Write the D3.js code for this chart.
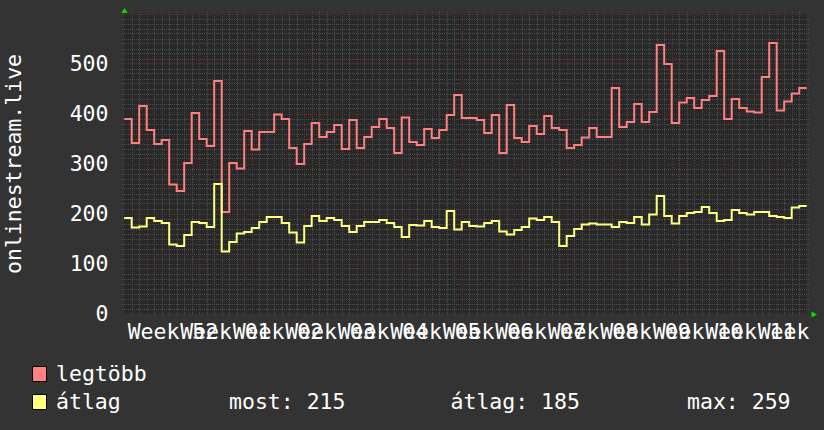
<!DOCTYPE html>
<html><head><meta charset="utf-8">
<script src="https://cdn.jsdelivr.net/npm/d3@7/dist/d3.min.js"></script>
<style>html,body{margin:0;padding:0;background:#333333;} svg{display:block;}</style>
</head><body>
<script>
// ---- data (daily values) ----
const maxValues = [389,341,415,367,339,347,258,245,301,401,
  349,335,465,203,301,290,365,328,363,363,
  398,389,331,299,339,381,353,363,377,329,
  387,331,353,373,389,371,321,392,343,337,
  369,351,367,397,437,391,391,387,361,397,
  321,417,351,343,375,359,395,371,367,331,
  337,352,371,353,353,451,373,383,419,383,
  403,537,499,381,422,431,411,427,435,525,
  389,429,411,404,402,473,541,406,424,440,451];
const avgValues = [191,172,174,191,185,181,138,135,157,183,
  181,173,259,124,143,160,163,171,183,193,
  193,181,162,142,175,195,185,191,187,175,
  163,175,183,183,187,181,173,153,177,176,
  185,173,171,205,168,183,175,174,181,185,
  164,158,167,173,190,187,193,183,135,155,
  169,178,180,178,178,173,183,181,193,178,
  198,235,195,180,195,201,203,213,201,185,
  187,207,201,198,203,203,195,193,191,212,215];
const weekNumbers = ["52","01","02","03","04","05","06","07","08","09","10","11","12"];
const firstWeekStartDay = 3;
const yTicks = [0,100,200,300,400,500];
const yAxisTitle = "onlinestream.live";
const legendNames = ["legtöbb","átlag"];
const legendStats = ["most: 215","átlag: 185","max: 259"];
const seriesColors = ["#ff8080","#ffff80"];

// ---- layout ----
const W = 824, H = 430;
const FONT = "'DejaVu Sans Mono', monospace";
const FS = "21.5px";
const nDays = maxValues.length;
const svg = d3.select("body").append("svg").attr("width", W).attr("height", H);
svg.append("rect").attr("width", W).attr("height", H).attr("fill", "#333333");

const x = d3.scaleLinear().domain([0, nDays]).range([124.2, 806.7]);
const y = d3.scaleLinear().domain([0, 600]).range([313.5, 13.5]);
const px = v => Math.round(v) + 0.5;

svg.append("rect")
  .attr("x", x(0)).attr("y", y(600))
  .attr("width", x(nDays) - x(0)).attr("height", y(0) - y(600))
  .attr("fill", "#282828");

const grid = svg.append("g").attr("shape-rendering", "crispEdges");
// minor horizontal
const minorH = d3.range(10, 600, 10).filter(v => v % 100 !== 0);
grid.selectAll(".mh").data(minorH).join("line")
  .attr("x1", x(0) - 2).attr("x2", x(nDays) + 2)
  .attr("y1", d => px(y(d))).attr("y2", d => px(y(d)))
  .attr("stroke", "#4e4e4e").attr("stroke-dasharray", "1,1");
// minor vertical (daily)
const minorV = d3.range(1, nDays).filter(d => (d - firstWeekStartDay) % 7 !== 0);
grid.selectAll(".mv").data(minorV).join("line")
  .attr("y1", y(600) - 2).attr("y2", y(0) + 2)
  .attr("x1", d => px(x(d))).attr("x2", d => px(x(d)))
  .attr("stroke", "#4e4e4e").attr("stroke-dasharray", "1,1");
// major horizontal
const majorH = [100,200,300,400,500,600];
grid.selectAll(".Mh").data(majorH).join("line")
  .attr("x1", x(0) - 2).attr("x2", x(nDays) + 2)
  .attr("y1", d => px(y(d))).attr("y2", d => px(y(d)))
  .attr("stroke", "#5c3030").attr("stroke-dasharray", "1,1");
// major vertical (week starts)
const majorV = d3.range(firstWeekStartDay, nDays, 7);
grid.selectAll(".Mv").data(majorV).join("line")
  .attr("y1", y(600) - 2).attr("y2", y(0) + 3)
  .attr("x1", d => px(x(d))).attr("x2", d => px(x(d)))
  .attr("stroke", "#5c3030").attr("stroke-dasharray", "1,1");

// y tick labels
svg.append("g").selectAll("text").data(yTicks).join("text")
  .attr("x", 108.5).attr("y", d => y(d) + 7.8)
  .attr("text-anchor", "end")
  .attr("font-family", FONT).attr("font-size", FS).attr("fill", "#ffffff")
  .text(d => d);

// x labels (centered mid-week)
svg.append("g").selectAll("text").data(weekNumbers).join("text")
  .attr("x", (d, i) => x(firstWeekStartDay + 7 * i + 3.5))
  .attr("y", 338.5)
  .attr("text-anchor", "middle")
  .attr("font-family", FONT).attr("font-size", FS).attr("fill", "#ffffff")
  .attr("xml:space", "preserve")
  .text(d => "Week " + d);

// y axis title
svg.append("text")
  .attr("transform", "translate(21,164) rotate(-90)")
  .attr("text-anchor", "middle")
  .attr("font-family", FONT).attr("font-size", FS).attr("fill", "#ffffff")
  .text(yAxisTitle);

// series
const line = d3.line()
  .x(d => x(d[0])).y(d => y(d[1]))
  .curve(d3.curveStepAfter);
function pts(arr) {
  const p = arr.map((v, i) => [i, v]);
  p.push([arr.length, arr[arr.length - 1]]);
  return p;
}
[maxValues, avgValues].forEach((arr, k) => {
  svg.append("path").datum(pts(arr))
    .attr("d", line)
    .attr("fill", "none")
    .attr("stroke", seriesColors[k])
    .attr("stroke-width", 2)
    .attr("stroke-linejoin", "miter");
});

// arrows
svg.append("path").attr("d", "M121.5,13 L127.5,13 L124.5,8 Z").attr("fill", "#00e000");
svg.append("path").attr("d", "M811.5,311.5 L811.5,317.5 L817,314.5 Z").attr("fill", "#00e000");

// legend
const leg = svg.append("g");
legendNames.forEach((n, i) => {
  const yy = 366.5 + i * 28;
  leg.append("rect").attr("x", 32.5).attr("y", yy).attr("width", 14).attr("height", 15)
    .attr("fill", seriesColors[i]).attr("stroke", "#000").attr("stroke-width", 1);
  leg.append("text").attr("x", 56).attr("y", yy + 14.5)
    .attr("font-family", FONT).attr("font-size", FS).attr("fill", "#ffffff")
    .text(n);
});
const statX = [229, 450.5, 687];
legendStats.forEach((s, i) => {
  leg.append("text").attr("x", statX[i]).attr("y", 366.5 + 28 + 14.5)
    .attr("font-family", FONT).attr("font-size", FS).attr("fill", "#ffffff")
    .text(s);
});
</script>
</body></html>
